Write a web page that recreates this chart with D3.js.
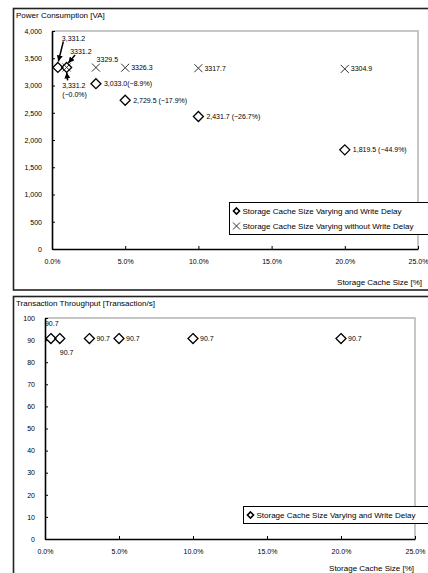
<!DOCTYPE html>
<html>
<head>
<meta charset="utf-8">
<script src="https://cdnjs.cloudflare.com/ajax/libs/d3/7.8.5/d3.min.js"></script>
<style>
  body { margin: 0; background: #fff; }
  text { font-family: "Liberation Sans", Arial, sans-serif; fill: #000; }
</style>
</head>
<body>
<svg width="428" height="573"></svg>
<script>
// storage cache size (fraction of storage) for each run
var cacheSize = [0.004, 0.01, 0.03, 0.05, 0.10, 0.20];
// power consumption [VA] with write delay
var powerWithDelay = [3331.2, 3331.2, 3033.0, 2729.5, 2431.7, 1819.5];
var powerWithDelayText = [["3,331.2"], ["3,331.2", "(\u22120.0%)"], ["3,033.0(\u22128.9%)"],
  ["2,729.5 (\u221217.9%)"], ["2,431.7 (\u221226.7%)"], ["1,819.5 (\u221244.9%)"]];
// power consumption [VA] without write delay
var cacheSizeNoDelay = [0.01, 0.03, 0.05, 0.10, 0.20];
var powerWithoutDelay = [3331.2, 3329.5, 3326.3, 3317.7, 3304.9];
// transaction throughput [transaction/s]
var throughput = [90.7, 90.7, 90.7, 90.7, 90.7, 90.7];

var xTicks = [0, 0.05, 0.10, 0.15, 0.20, 0.25];
var powerTicks = [0, 500, 1000, 1500, 2000, 2500, 3000, 3500, 4000];
var throughputTicks = [0, 10, 20, 30, 40, 50, 60, 70, 80, 90, 100];
var powerLegend = ["Storage Cache Size Varying and Write Delay", "Storage Cache Size Varying without Write Delay"];
var throughputLegend = ["Storage Cache Size Varying and Write Delay"];

var FONT = '"Liberation Sans", Arial, sans-serif';
var svg = d3.select("svg");

var diamond = function(r) { return "M0," + (-r) + "L" + r + ",0L0," + r + "L" + (-r) + ",0Z"; };
var cross = function(r) { return "M" + (-r) + "," + (-r) + "L" + r + "," + r + "M" + r + "," + (-r) + "L" + (-r) + "," + r; };

svg.append("defs").append("marker").attr("id", "arrow").attr("orient", "auto")
  .attr("markerUnits", "userSpaceOnUse")
  .attr("markerWidth", 6).attr("markerHeight", 6)
  .attr("viewBox", "0 0 10 10").attr("refX", 10).attr("refY", 5)
  .append("path").attr("d", "M0,0L10,5L0,10Z").style("fill", "#000");

// outer chart frames (they run off the right / bottom of the picture)
svg.append("rect").attr("x", 13.5).attr("y", 8.5).attr("width", 430).attr("height", 281.5)
  .style("fill", "none").style("stroke", "#222").style("stroke-width", 1.6);
svg.append("rect").attr("x", 13.5).attr("y", 296.5).attr("width", 430).attr("height", 300)
  .style("fill", "none").style("stroke", "#222").style("stroke-width", 1.6);

// grey frame + black axes with inner ticks
draw_axes = function(x, y, yTicks, yFmt) {
  var xr = x.range(), yr = y.range();
  svg.append("path").attr("d", "M" + xr[0] + "," + yr[1] + "H" + xr[1] + "V" + yr[0])
    .style("fill", "none").style("stroke", "#b4b4b4").style("stroke-width", 1.5);
  var gy = svg.append("g").attr("transform", "translate(" + xr[0] + ",0)")
    .call(d3.axisLeft(y).tickValues(yTicks).tickFormat(yFmt)
      .tickSizeInner(-3).tickSizeOuter(0).tickPadding(10));
  var gx = svg.append("g").attr("transform", "translate(0," + yr[0] + ")")
    .call(d3.axisBottom(x).tickValues(xTicks).tickFormat(d3.format(".1%"))
      .tickSizeInner(-3).tickSizeOuter(0).tickPadding(10));
  [gx, gy].forEach(function(g) {
    g.attr("font-size", 7).attr("font-family", FONT);
    g.select(".domain").style("stroke", "#000").style("stroke-width", 1.6);
    g.selectAll(".tick line").style("stroke", "#000");
  });
}

draw_legend = function(x0, y0, w, labels, symbols) {
  var h = labels.length * 15 + 2;
  svg.append("rect").attr("x", x0).attr("y", y0).attr("width", w).attr("height", h)
    .style("fill", "#fff").style("stroke", "#000").style("stroke-width", 1);
  labels.forEach(function(t, i) {
    var cy = y0 + 8.5 + i * 15;
    if (symbols[i] == "d") {
      svg.append("path").attr("d", diamond(3)).attr("transform", "translate(" + (x0 + 7) + "," + cy + ")")
        .style("fill", "none").style("stroke", "#000").style("stroke-width", 1.6);
    } else {
      svg.append("path").attr("d", cross(3.5)).attr("transform", "translate(" + (x0 + 7) + "," + cy + ")")
        .style("fill", "none").style("stroke", "#333").style("stroke-width", 1);
    }
    svg.append("text").attr("x", x0 + 13).attr("y", cy).attr("dy", "0.35em")
      .style("font-size", "8px").text(t);
  });
}

// -------- Power consumption
var x1 = d3.scaleLinear().domain([0, 0.25]).range([52, 418]);
var y1 = d3.scaleLinear().domain([0, 4000]).range([249, 31]);

svg.append("text").attr("x", 16).attr("y", 15).attr("dy", "0.35em").style("font-size", "8px")
  .text("Power Consumption [VA]");
svg.append("text").attr("x", 422).attr("y", 282).attr("dy", "0.35em").attr("text-anchor", "end")
  .style("font-size", "8px").text("Storage Cache Size [%]");
draw_axes(x1, y1, powerTicks, d3.format(","));

svg.append("g").selectAll("path").data(cacheSize).enter().append("path")
  .attr("d", diamond(5))
  .attr("transform", function(d, i) { return "translate(" + x1(d) + "," + y1(powerWithDelay[i]) + ")"; })
  .style("fill", "none").style("stroke", "#000").style("stroke-width", 1.3);
svg.append("g").selectAll("path").data(cacheSizeNoDelay).enter().append("path")
  .attr("d", cross(4))
  .attr("transform", function(d, i) { return "translate(" + x1(d) + "," + y1(powerWithoutDelay[i]) + ")"; })
  .style("fill", "none").style("stroke", "#333").style("stroke-width", 1);

// label offsets from the point (layout only)
var delayLabelPos = [[4, -29], [-4.5, 18.5], [8, 0], [8, 0], [8, 0], [8, 0]];
var noDelayLabelPos = [[3.5, -16], [0.7, -8], [6, 0], [6, 0], [6, 0]];
cacheSize.forEach(function(d, i) {
  var t = svg.append("text").style("font-size", "7px");
  powerWithDelayText[i].forEach(function(line, j) {
    t.append("tspan").attr("x", x1(d) + delayLabelPos[i][0])
      .attr("y", y1(powerWithDelay[i]) + delayLabelPos[i][1] + j * 8.5)
      .attr("dy", "0.35em").text(line);
  });
});
cacheSizeNoDelay.forEach(function(d, i) {
  svg.append("text").attr("x", x1(d) + noDelayLabelPos[i][0])
    .attr("y", y1(powerWithoutDelay[i]) + noDelayLabelPos[i][1]).attr("dy", "0.35em")
    .style("font-size", "7px").text(d3.format(".1f")(powerWithoutDelay[i]));
});

// call-out arrows for the crowded points near 0%
var arrows = [
  {x: cacheSize[0], v: powerWithDelay[0], from: [5.5, -26], to: [0.5, -6]},
  {x: cacheSizeNoDelay[0], v: powerWithoutDelay[0], from: [8.4, -12.5], to: [1.7, -4.5]},
  {x: cacheSize[1], v: powerWithDelay[1], from: [1, 13], to: [0, 5]}
];
svg.append("g").selectAll("line").data(arrows).enter().append("line")
  .attr("x1", function(a) { return x1(a.x) + a.from[0]; })
  .attr("y1", function(a) { return y1(a.v) + a.from[1]; })
  .attr("x2", function(a) { return x1(a.x) + a.to[0]; })
  .attr("y2", function(a) { return y1(a.v) + a.to[1]; })
  .style("stroke", "#000").style("stroke-width", 1.5)
  .attr("marker-end", "url(#arrow)");

draw_legend(229.5, 202.5, 200, powerLegend, ["d", "x"]);

// -------- Transaction throughput
var x2 = d3.scaleLinear().domain([0, 0.25]).range([45, 415]);
var y2 = d3.scaleLinear().domain([0, 100]).range([539, 318]);

svg.append("text").attr("x", 16).attr("y", 303.5).attr("dy", "0.35em").style("font-size", "8px")
  .text("Transaction Throughput [Transaction/s]");
svg.append("text").attr("x", 414).attr("y", 568).attr("dy", "0.35em").attr("text-anchor", "end")
  .style("font-size", "8px").text("Storage Cache Size [%]");
draw_axes(x2, y2, throughputTicks, d3.format("d"));

svg.append("g").selectAll("path").data(cacheSize).enter().append("path")
  .attr("d", diamond(5))
  .attr("transform", function(d, i) { return "translate(" + x2(d) + "," + y2(throughput[i]) + ")"; })
  .style("fill", "none").style("stroke", "#000").style("stroke-width", 1.3);

var tputLabelPos = [[-6, -15.5], [0, 14], [7, 0], [7, 0], [7, 0], [7, 0]];
svg.append("g").selectAll("text").data(cacheSize).enter().append("text")
  .attr("x", function(d, i) { return x2(d) + tputLabelPos[i][0]; })
  .attr("y", function(d, i) { return y2(throughput[i]) + tputLabelPos[i][1]; })
  .attr("dy", "0.35em").style("font-size", "7px")
  .text(function(d, i) { return d3.format(".1f")(throughput[i]); });

draw_legend(243.5, 506.5, 186, throughputLegend, ["d"]);
</script>
</body>
</html>
